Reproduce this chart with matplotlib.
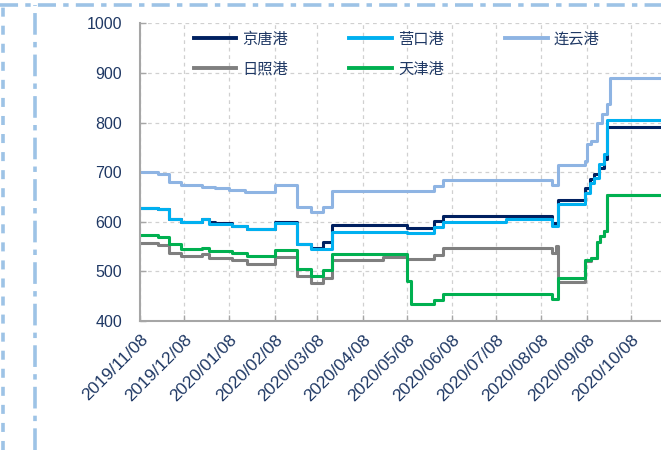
import matplotlib
matplotlib.use('Agg')
import matplotlib.pyplot as plt
import matplotlib.dates as mdates
import pandas as pd
from matplotlib.lines import Line2D

# fechas de cambio de precio y valores (escalonado)
jt_dates = ['2019-11-08', '2019-11-20', '2019-11-28', '2019-12-06', '2019-12-20', '2019-12-25',
            '2019-12-29', '2020-01-10', '2020-01-20', '2020-02-08', '2020-02-23', '2020-03-04',
            '2020-03-12', '2020-03-18', '2020-05-08', '2020-05-27', '2020-06-02', '2020-08-15',
            '2020-08-19', '2020-09-07', '2020-09-10', '2020-09-13', '2020-09-16', '2020-09-20',
            '2020-09-22', '2020-10-28']
jt_vals = [628, 625, 605, 600, 605, 600, 597, 591, 585, 600, 555, 548, 560, 593, 588, 601, 611, 598,
           644, 669, 686, 696, 709, 726, 792, 792]

yk_dates = ['2019-11-08', '2019-11-20', '2019-11-28', '2019-12-06', '2019-12-20', '2019-12-25',
            '2020-01-10', '2020-01-20', '2020-02-08', '2020-02-23', '2020-03-04', '2020-03-18',
            '2020-05-08', '2020-05-27', '2020-06-02', '2020-07-15', '2020-08-15', '2020-08-19',
            '2020-09-07', '2020-09-10', '2020-09-13', '2020-09-16', '2020-09-20', '2020-09-22',
            '2020-10-28']
yk_vals = [628, 625, 605, 600, 605, 596, 591, 585, 598, 555, 545, 580, 577, 589, 600, 605, 591, 635,
           658, 679, 689, 716, 736, 805, 805]

ly_dates = ['2019-11-08', '2019-11-20', '2019-11-28', '2019-12-06', '2019-12-20', '2019-12-29',
            '2020-01-08', '2020-01-19', '2020-02-08', '2020-02-23', '2020-03-04', '2020-03-12',
            '2020-03-18', '2020-05-27', '2020-06-02', '2020-08-15', '2020-08-19', '2020-09-07',
            '2020-09-08', '2020-09-11', '2020-09-15', '2020-09-18', '2020-09-22', '2020-09-24',
            '2020-10-28']
ly_vals = [700, 697, 680, 675, 670, 668, 665, 660, 675, 630, 620, 630, 662, 672, 685, 675, 715, 722,
           757, 763, 800, 818, 838, 890, 890]

rz_dates = ['2019-11-08', '2019-11-20', '2019-11-28', '2019-12-06', '2019-12-20', '2019-12-25',
            '2020-01-10', '2020-01-20', '2020-02-08', '2020-02-23', '2020-03-04', '2020-03-12',
            '2020-03-18', '2020-04-22', '2020-05-08', '2020-05-27', '2020-06-02', '2020-08-15',
            '2020-08-18', '2020-08-19', '2020-09-07', '2020-09-11', '2020-09-15', '2020-09-17',
            '2020-09-20', '2020-09-22', '2020-10-28']
rz_vals = [558, 553, 538, 531, 535, 527, 522, 515, 528, 490, 477, 487, 522, 528, 525, 533, 548, 537,
           551, 478, 520, 527, 560, 571, 581, 653, 653]

tj_dates = ['2019-11-08', '2019-11-20', '2019-11-28', '2019-12-06', '2019-12-20', '2019-12-25',
            '2020-01-10', '2020-01-20', '2020-02-08', '2020-02-23', '2020-03-04', '2020-03-12',
            '2020-03-18', '2020-05-08', '2020-05-11', '2020-05-27', '2020-06-02', '2020-08-15',
            '2020-08-19', '2020-09-07', '2020-09-11', '2020-09-15', '2020-09-17', '2020-09-20',
            '2020-09-22', '2020-10-28']
tj_vals = [573, 569, 555, 545, 548, 542, 537, 530, 543, 505, 490, 503, 535, 480, 435, 443, 455, 445,
           486, 523, 527, 560, 571, 581, 653, 653]

names = ['京唐港', '营口港', '连云港', '日照港', '天津港']
colors = ['#002060', '#00B0F0', '#8EB4E3', '#7F7F7F', '#00B050']
series = [(jt_dates, jt_vals), (yk_dates, yk_vals), (ly_dates, ly_vals),
          (rz_dates, rz_vals), (tj_dates, tj_vals)]
tick_dates = ['2019-11-08', '2019-12-08', '2020-01-08', '2020-02-08', '2020-03-08', '2020-04-08',
              '2020-05-08', '2020-06-08', '2020-07-08', '2020-08-08', '2020-09-08', '2020-10-08']

navy = '#1F3864'
W, H = 661, 450
fig = plt.figure(figsize=(W / 100, H / 100), dpi=100)
ax = fig.add_axes([140 / W, 1 - 321 / H, (W - 140) / W, (321 - 23.3) / H])

lines = []
for (d, v), n, c in zip(series, names, colors):
    l, = ax.step(pd.to_datetime(d), v, where='post', color=c, lw=2.2, label=n)
    lines.append(l)

ax.set_ylim(400, 1000)
ax.set_yticks(range(400, 1001, 100))
ax.set_xlim(pd.Timestamp('2019-11-08'), pd.Timestamp('2019-11-08') + pd.Timedelta(days=355.6))
ax.set_xticks(pd.to_datetime(tick_dates))
ax.xaxis.set_major_formatter(mdates.DateFormatter('%Y/%m/%d'))

ax.grid(True, color='#D0D0D0', linestyle=(0, (3, 3)), lw=0.9)
ax.set_axisbelow(True)
for s in ['top', 'right']:
    ax.spines[s].set_visible(False)
for s in ['left', 'bottom']:
    ax.spines[s].set_color('#A6A6A6')
    ax.spines[s].set_linewidth(1.5)
ax.tick_params(axis='both', direction='in', length=4, color='#A6A6A6', width=1,
               labelcolor=navy)
ax.tick_params(axis='y', pad=13, labelsize=11.5)
ax.tick_params(axis='x', pad=8, labelsize=12.5)
for lab in ax.get_xticklabels():
    lab.set_rotation(45)
    lab.set_ha('right')
    lab.set_rotation_mode('anchor')
for lab in ax.get_xticklabels() + ax.get_yticklabels():
    lab.set_family('Liberation Sans')

# leyenda en orden por filas
order = [0, 3, 1, 4, 2]
leg = ax.legend([lines[i] for i in order], [names[i] for i in order], ncol=3,
                loc='upper left', bbox_to_anchor=(186 / W, 1 - 23 / H),
                bbox_transform=fig.transFigure, frameon=False, borderpad=0,
                handlelength=2.8, handletextpad=0.4, columnspacing=4.0, labelspacing=0.85,
                prop={'family': ['Noto Sans CJK SC', 'DejaVu Sans'], 'size': 11})
for t in leg.get_texts():
    t.set_color(navy)
for h in leg.legend_handles:
    h.set_linewidth(2.8)

# borde punteado
bc = '#9DC3E6'
fig.add_artist(Line2D([0, 1], [1 - 5 / H, 1 - 5 / H], transform=fig.transFigure, color=bc,
                      lw=2.6, linestyle=(0, (5, 2, 1.5, 2))))
fig.add_artist(Line2D([35 / W, 35 / W], [0, 1 - 5 / H], transform=fig.transFigure, color=bc,
                      lw=2.6, linestyle=(0, (6, 2, 1.5, 2))))
fig.add_artist(Line2D([3 / W, 3 / W], [0, 1 - 5 / H], transform=fig.transFigure, color=bc,
                      lw=2.6, linestyle=(0, (2.5, 2.5))))

fig.savefig('out.png', dpi=100)
